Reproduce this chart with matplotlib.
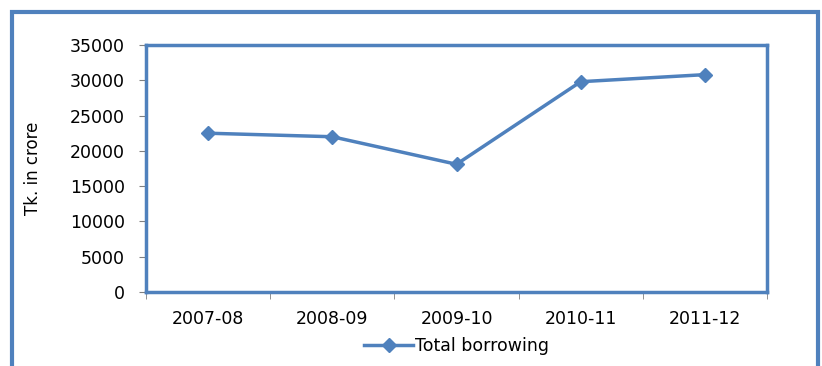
import matplotlib.pyplot as plt
from matplotlib.patches import Rectangle

years = ['2007-08', '2008-09', '2009-10', '2010-11', '2011-12']
borrowing = [22500, 22000, 18100, 29800, 30800]

blue = '#4F81BD'

fig = plt.figure(figsize=(8.22, 3.66), dpi=100)
ax = fig.add_axes([146 / 822, 1 - 292 / 366, 621 / 822, 247 / 366])

x = list(range(len(years)))
ax.plot(x, borrowing, color=blue, lw=2.5, marker='D', markersize=7,
        label='Total borrowing')

ax.set_xlim(-0.5, len(years) - 0.5)
ax.set_ylim(0, 35000)
ax.set_yticks(range(0, 35001, 5000))
ax.set_xticks(x)
ax.set_xticklabels(years)
ax.set_xticks([i - 0.5 for i in range(len(years) + 1)], minor=True)
ax.tick_params(axis='x', which='major', length=0, pad=13, labelsize=12.5)
ax.tick_params(axis='x', which='minor', length=5, color='#808080', direction='out')
ax.tick_params(axis='y', length=5, color='#808080', direction='out', pad=10, labelsize=12.5)

for s in ax.spines.values():
    s.set_color(blue)
    s.set_linewidth(2.5)

ax.set_ylabel('Tk. in crore', family=['Liberation Sans Narrow', 'DejaVu Sans'],
              fontsize=12, labelpad=20)

ax.legend(loc='upper center', bbox_to_anchor=(0.5, -0.12), frameon=False,
          fontsize=12.5, handlelength=2.8, handletextpad=0.1)

# outer chart frame
fig.patches.append(Rectangle((12 / 822, -0.1), 806 / 822, 1.1 - 12 / 366,
                             transform=fig.transFigure, fill=False,
                             edgecolor=blue, lw=3))

plt.savefig('out.png', dpi=100)
